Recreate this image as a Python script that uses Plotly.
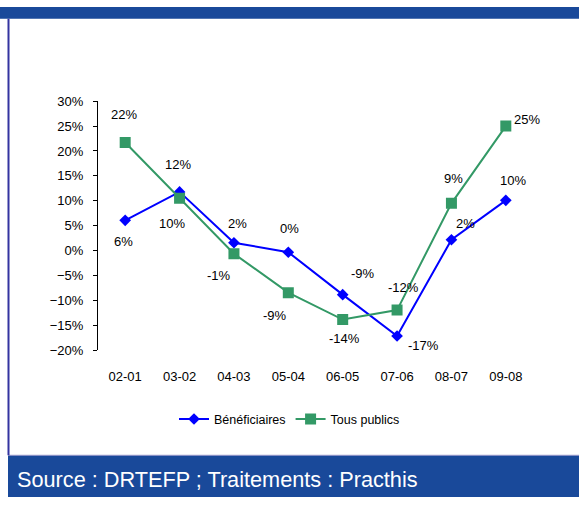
import plotly.graph_objects as go

categories = ["02-01", "03-02", "04-03", "05-04", "06-05", "07-06", "08-07", "09-08"]
benef = [6.1, 11.8, 1.6, -0.3, -8.8, -17.1, 2.2, 10.1]
benef_labels = ["6%", "12%", "2%", "0%", "-9%", "-17%", "2%", "10%"]
tous = [21.7, 10.5, -0.6, -8.4, -13.8, -11.9, 9.5, 25.0]
tous_labels = ["22%", "10%", "-1%", "-9%", "-14%", "-12%", "9%", "25%"]

# label offsets (px): style only
benef_dx = [-2, -2, 4, 1, 20, 26, 14, 7]
benef_dy = [-21, 27, 19, 24, 21, -9, 16, 20]
tous_dx = [-1, -8, -15, -13, 2, 6, 2, 21]
tous_dy = [28, -25, -22, -23, -19, 23, 25, 7]

BLUE = "#0000FF"
GREEN = "#339966"
BAND = "#19499A"
FONT = "Liberation Sans"

W, H = 579, 505
x0p, x1p = 98 / W, 533 / W
y0p, y1p = (H - 354) / H, (H - 97) / H
ymin, ymax = -20, 30
zero_pos = y0p + (0 - ymin) / (ymax - ymin) * (y1p - y0p)

fig = go.Figure()
fig.add_trace(go.Scatter(
    x=categories, y=benef, mode="lines+markers", name="Bénéficiaires",
    line=dict(color=BLUE, width=2), marker=dict(symbol="diamond", size=9, color=BLUE)))
fig.add_trace(go.Scatter(
    x=categories, y=tous, mode="lines+markers", name="Tous publics",
    line=dict(color=GREEN, width=2), marker=dict(symbol="square", size=11, color=GREEN)))

annotations = []
for cat, v, t, dx, dy in zip(categories, benef, benef_labels, benef_dx, benef_dy):
    annotations.append(dict(x=cat, y=v, xref="x", yref="y", text=t, showarrow=False,
                            xshift=dx, yshift=dy, font=dict(family=FONT, size=13, color="black")))
for cat, v, t, dx, dy in zip(categories, tous, tous_labels, tous_dx, tous_dy):
    annotations.append(dict(x=cat, y=v, xref="x", yref="y", text=t, showarrow=False,
                            xshift=dx, yshift=dy, font=dict(family=FONT, size=13, color="black")))
annotations.append(dict(x=15 / W, y=(H - 487) / H, xref="paper", yref="paper",
                        xanchor="left", yanchor="middle", showarrow=False,
                        text="Source : DRTEFP ; Traitements : Practhis",
                        font=dict(family=FONT, size=21.7, color="white")))

n = len(categories)
fig.update_layout(
    width=W, height=H, margin=dict(l=0, r=0, t=0, b=0),
    paper_bgcolor="white", plot_bgcolor="white",
    font=dict(family=FONT, size=13, color="black"),
    xaxis=dict(domain=[x0p, x1p], type="category", range=[-0.5, n - 0.5],
               showline=False, showgrid=False, zeroline=False,
               ticks="outside", ticklen=14, tickcolor="rgba(0,0,0,0)",
               tickfont=dict(family=FONT, size=13, color="black")),
    xaxis2=dict(domain=[x0p, x1p], overlaying="x", anchor="free", position=zero_pos,
                range=[-0.5, n - 0.5], tickvals=[i - 0.5 for i in range(n + 1)],
                showticklabels=False, showline=True, linecolor="black", linewidth=1,
                ticks="outside", ticklen=4, tickcolor="black", showgrid=False, zeroline=False),
    yaxis=dict(domain=[y0p, y1p], range=[ymin, ymax], dtick=5, ticksuffix="%",
               showline=True, linecolor="black", linewidth=1, ticks="outside", ticklen=4,
               tickcolor="black", showgrid=False, zeroline=False, ticklabelstandoff=7,
               tickfont=dict(family=FONT, size=13, color="black")),
    legend=dict(orientation="h", x=0.5, xanchor="center", y=(H - 425) / H, yanchor="middle",
                font=dict(family=FONT, size=12.5, color="black"), bgcolor="rgba(0,0,0,0)"),
    annotations=annotations,
    shapes=[
        dict(type="rect", xref="paper", yref="paper", x0=0, x1=1, y0=(H - 12) / H, y1=1,
             fillcolor=BAND, line=dict(width=0), layer="below"),
        dict(type="rect", xref="paper", yref="paper", x0=8 / W, x1=1, y0=0, y1=(H - 462) / H,
             fillcolor=BAND, line=dict(width=0), layer="below"),
        dict(type="line", xref="paper", yref="paper", x0=8 / W, x1=1, y0=(H - 462) / H,
             y1=(H - 462) / H, line=dict(color="#9999CC", width=1)),
        dict(type="line", xref="paper", yref="paper", x0=8.5 / W, x1=8.5 / W, y0=(H - 462) / H,
             y1=(H - 12) / H, line=dict(color="#3333A0", width=2)),
    ],
)

fig.write_html(
    "out.html",
    config={"displayModeBar": False},
    post_script=(
        "document.documentElement.style.margin='0';"
        "document.documentElement.style.overflow='hidden';"
        "document.body.style.margin='0';"
        "document.body.style.overflow='hidden';"
    ),
)
